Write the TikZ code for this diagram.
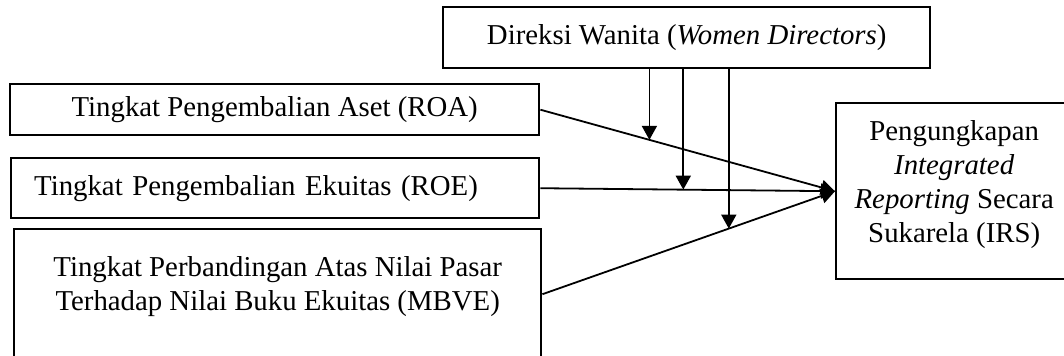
\documentclass[tikz,border=0pt]{standalone}
\usepackage{fontspec}
\setmainfont{Liberation Serif}
\usetikzlibrary{positioning}
\usetikzlibrary{calc,arrows.meta}

\begin{document}
\begin{tikzpicture}[x=0.5pt,y=-0.5pt,
    box/.style={draw,line width=1.2pt,inner sep=0pt,
      font=\fontsize{14.4}{17}\selectfont},
    link/.style={line width=0.9pt,-{Triangle[length=7pt,width=7.5pt]}}]
  \useasboundingbox (0,0) rectangle (1064,355);
  % moderator box on top
  \node[box,anchor=north west,minimum width=243.5pt,minimum height=30.5pt]
    (dw) at (442,6) {Direksi Wanita (\textit{Women Directors})};
  % independent variables, left column
  \node[box,anchor=north west,minimum width=264.5pt,minimum height=25.5pt]
    (roa) at (9,83) {Tingkat Pengembalian Aset (ROA)};
  \node[box,anchor=north west,minimum height=30pt,inner xsep=11.5pt,
    text width=241pt,align=left]
    (roe) at (10,157) {Tingkat Pengembalian Ekuitas (ROE)};
  \node[box,anchor=north west,minimum width=263.5pt,minimum height=65pt,
    align=center,text depth=11pt]
    (mbve) at (13,228) {Tingkat Perbandingan Atas Nilai Pasar\\
      Terhadap Nilai Buku Ekuitas (MBVE)};
  % dependent variable (cut off at the right)
  \node[box,anchor=north west,minimum width=118pt,minimum height=88pt,
    align=center,text depth=10pt]
    (irs) at (835,102) {Pengungkapan\\ \textit{Integrated}\\
      \textit{Reporting} Secara\\ Sukarela (IRS)};
  % main paths
  \foreach \src in {roa,roe,mbve}
    \draw[link] (\src.east) -- (irs.west);
  % moderating arrows onto each path
  \foreach \src/\t/\i in {roa/0.37/1,roe/0.485/2,mbve/0.637/3} {
    \coordinate (m\i) at ($(\src.east)!\t!(irs.west)$);
    \draw[link] (dw.south -| m\i) -- (m\i);
  }
\end{tikzpicture}
\end{document}
